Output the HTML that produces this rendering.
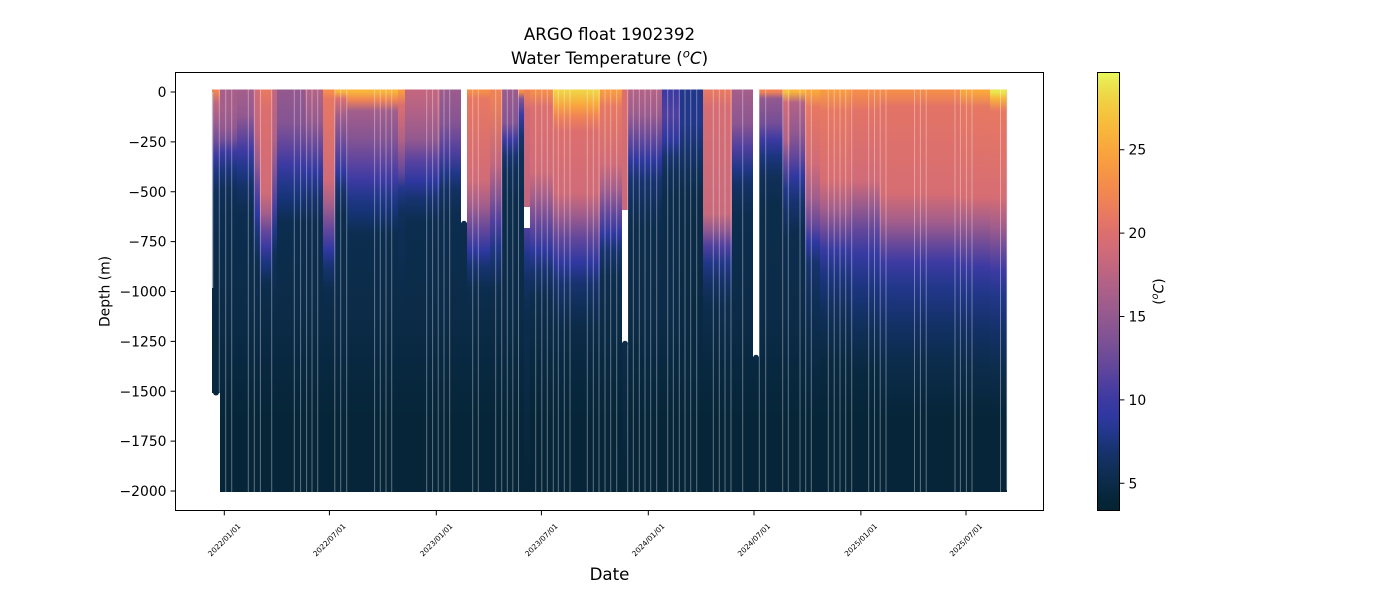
<!DOCTYPE html>
<html><head><meta charset="utf-8"><style>html,body{margin:0;padding:0;background:#fff;overflow:hidden}svg{display:block}</style></head>
<body>
<svg width="1400" height="600" viewBox="0 0 1400 600" xmlns="http://www.w3.org/2000/svg" font-family="'DejaVu Sans','Liberation Sans',sans-serif">
<defs>
<linearGradient id="g0" gradientUnits="userSpaceOnUse" x1="0" y1="16.6" x2="0" y2="836.6"><stop offset=".092" stop-color="#ef8355"/><stop offset=".105" stop-color="#c2667f"/><stop offset=".125" stop-color="#a35e8b"/><stop offset=".150" stop-color="#744e97"/><stop offset=".170" stop-color="#3c3aa2"/><stop offset=".190" stop-color="#1c3580"/><stop offset=".215" stop-color="#102f5a"/><stop offset=".300" stop-color="#0b2b48"/><stop offset=".393" stop-color="#082840"/></linearGradient>
<linearGradient id="gA1" gradientUnits="userSpaceOnUse" x1="0" y1="16.6" x2="0" y2="836.6"><stop offset=".092" stop-color="#a85f89"/><stop offset=".113" stop-color="#a35e8b"/><stop offset=".135" stop-color="#93598f"/><stop offset=".150" stop-color="#744e97"/><stop offset=".165" stop-color="#3c3aa2"/><stop offset=".185" stop-color="#1c3580"/><stop offset=".210" stop-color="#102f5a"/><stop offset=".240" stop-color="#0d2d50"/><stop offset=".360" stop-color="#0b2b48"/><stop offset=".430" stop-color="#082840"/><stop offset=".491" stop-color="#062538"/></linearGradient>
<linearGradient id="gA2" gradientUnits="userSpaceOnUse" x1="0" y1="16.6" x2="0" y2="836.6"><stop offset=".092" stop-color="#a35e8b"/><stop offset=".120" stop-color="#93598f"/><stop offset=".145" stop-color="#63479b"/><stop offset=".165" stop-color="#3c3aa2"/><stop offset=".185" stop-color="#22378a"/><stop offset=".210" stop-color="#133165"/><stop offset=".240" stop-color="#0d2d50"/><stop offset=".360" stop-color="#0b2b48"/><stop offset=".430" stop-color="#082840"/><stop offset=".491" stop-color="#062538"/></linearGradient>
<linearGradient id="gB" gradientUnits="userSpaceOnUse" x1="0" y1="16.6" x2="0" y2="836.6"><stop offset=".092" stop-color="#d06b78"/><stop offset=".140" stop-color="#c2667f"/><stop offset=".180" stop-color="#93598f"/><stop offset=".205" stop-color="#63479b"/><stop offset=".240" stop-color="#2f38a0"/><stop offset=".270" stop-color="#173370"/><stop offset=".300" stop-color="#0d2d50"/><stop offset=".360" stop-color="#0b2b48"/><stop offset=".430" stop-color="#082840"/><stop offset=".491" stop-color="#062538"/></linearGradient>
<linearGradient id="gC" gradientUnits="userSpaceOnUse" x1="0" y1="16.6" x2="0" y2="836.6"><stop offset=".092" stop-color="#e77862"/><stop offset=".110" stop-color="#dc6f6e"/><stop offset=".215" stop-color="#d06b78"/><stop offset=".240" stop-color="#a35e8b"/><stop offset=".262" stop-color="#63479b"/><stop offset=".280" stop-color="#3c3aa2"/><stop offset=".300" stop-color="#1c3580"/><stop offset=".325" stop-color="#0d2d50"/><stop offset=".360" stop-color="#0b2b48"/><stop offset=".430" stop-color="#082840"/><stop offset=".491" stop-color="#062538"/></linearGradient>
<linearGradient id="gD" gradientUnits="userSpaceOnUse" x1="0" y1="16.6" x2="0" y2="836.6"><stop offset=".092" stop-color="#c2667f"/><stop offset=".150" stop-color="#b26286"/><stop offset=".190" stop-color="#845493"/><stop offset=".230" stop-color="#4f3f9f"/><stop offset=".260" stop-color="#22378a"/><stop offset=".290" stop-color="#102f5a"/><stop offset=".360" stop-color="#0b2b48"/><stop offset=".430" stop-color="#082840"/><stop offset=".491" stop-color="#062538"/></linearGradient>
<linearGradient id="gE" gradientUnits="userSpaceOnUse" x1="0" y1="16.6" x2="0" y2="836.6"><stop offset=".092" stop-color="#93598f"/><stop offset=".130" stop-color="#845493"/><stop offset=".155" stop-color="#63479b"/><stop offset=".180" stop-color="#3c3aa2"/><stop offset=".205" stop-color="#22378a"/><stop offset=".225" stop-color="#143373"/><stop offset=".250" stop-color="#0d2d50"/><stop offset=".360" stop-color="#0b2b48"/><stop offset=".430" stop-color="#082840"/><stop offset=".491" stop-color="#062538"/></linearGradient>
<linearGradient id="gF" gradientUnits="userSpaceOnUse" x1="0" y1="16.6" x2="0" y2="836.6"><stop offset=".092" stop-color="#b26286"/><stop offset=".130" stop-color="#93598f"/><stop offset=".160" stop-color="#63479b"/><stop offset=".190" stop-color="#2f38a0"/><stop offset=".220" stop-color="#173370"/><stop offset=".250" stop-color="#0d2d50"/><stop offset=".360" stop-color="#0b2b48"/><stop offset=".430" stop-color="#082840"/><stop offset=".491" stop-color="#062538"/></linearGradient>
<linearGradient id="gG" gradientUnits="userSpaceOnUse" x1="0" y1="16.6" x2="0" y2="836.6"><stop offset=".092" stop-color="#f48d4b"/><stop offset=".100" stop-color="#e77862"/><stop offset=".200" stop-color="#d06b78"/><stop offset=".230" stop-color="#a35e8b"/><stop offset=".260" stop-color="#63479b"/><stop offset=".285" stop-color="#2f38a0"/><stop offset=".305" stop-color="#173370"/><stop offset=".330" stop-color="#0d2d50"/><stop offset=".360" stop-color="#0b2b48"/><stop offset=".430" stop-color="#082840"/><stop offset=".491" stop-color="#062538"/></linearGradient>
<linearGradient id="gH" gradientUnits="userSpaceOnUse" x1="0" y1="16.6" x2="0" y2="836.6"><stop offset=".092" stop-color="#f8b43b"/><stop offset=".100" stop-color="#dc6f6e"/><stop offset=".120" stop-color="#a35e8b"/><stop offset=".160" stop-color="#63479b"/><stop offset=".190" stop-color="#2f38a0"/><stop offset=".210" stop-color="#173370"/><stop offset=".240" stop-color="#0d2d50"/><stop offset=".360" stop-color="#0b2b48"/><stop offset=".430" stop-color="#082840"/><stop offset=".491" stop-color="#062538"/></linearGradient>
<linearGradient id="gI" gradientUnits="userSpaceOnUse" x1="0" y1="16.6" x2="0" y2="836.6"><stop offset=".092" stop-color="#f8b43b"/><stop offset=".102" stop-color="#ef8355"/><stop offset=".115" stop-color="#a35e8b"/><stop offset=".150" stop-color="#845493"/><stop offset=".180" stop-color="#5a43a0"/><stop offset=".200" stop-color="#3c3aa2"/><stop offset=".220" stop-color="#22378a"/><stop offset=".240" stop-color="#143373"/><stop offset=".265" stop-color="#0d2d50"/><stop offset=".360" stop-color="#0b2b48"/><stop offset=".430" stop-color="#082840"/><stop offset=".491" stop-color="#062538"/></linearGradient>
<linearGradient id="gJ" gradientUnits="userSpaceOnUse" x1="0" y1="16.6" x2="0" y2="836.6"><stop offset=".092" stop-color="#f79a42"/><stop offset=".108" stop-color="#dc6f6e"/><stop offset=".150" stop-color="#b26286"/><stop offset=".190" stop-color="#63479b"/><stop offset=".210" stop-color="#22378a"/><stop offset=".240" stop-color="#102f5a"/><stop offset=".360" stop-color="#0b2b48"/><stop offset=".430" stop-color="#082840"/><stop offset=".491" stop-color="#062538"/></linearGradient>
<linearGradient id="gK" gradientUnits="userSpaceOnUse" x1="0" y1="16.6" x2="0" y2="836.6"><stop offset=".092" stop-color="#c2667f"/><stop offset=".115" stop-color="#b26286"/><stop offset=".150" stop-color="#93598f"/><stop offset=".175" stop-color="#5a43a0"/><stop offset=".200" stop-color="#2f38a0"/><stop offset=".222" stop-color="#173370"/><stop offset=".250" stop-color="#0d2d50"/><stop offset=".360" stop-color="#0b2b48"/><stop offset=".430" stop-color="#082840"/><stop offset=".491" stop-color="#062538"/></linearGradient>
<linearGradient id="gL" gradientUnits="userSpaceOnUse" x1="0" y1="16.6" x2="0" y2="836.6"><stop offset=".092" stop-color="#9a5b8d"/><stop offset=".130" stop-color="#845493"/><stop offset=".165" stop-color="#4f3f9f"/><stop offset=".190" stop-color="#22378a"/><stop offset=".210" stop-color="#133165"/><stop offset=".240" stop-color="#0d2d50"/><stop offset=".360" stop-color="#0b2b48"/><stop offset=".430" stop-color="#082840"/><stop offset=".491" stop-color="#062538"/></linearGradient>
<linearGradient id="gDeep" gradientUnits="userSpaceOnUse" x1="0" y1="16.6" x2="0" y2="836.6"><stop offset=".200" stop-color="#0d2d50"/><stop offset=".360" stop-color="#0b2b48"/><stop offset=".430" stop-color="#082840"/><stop offset=".491" stop-color="#062538"/></linearGradient>
<linearGradient id="gN2" gradientUnits="userSpaceOnUse" x1="0" y1="16.6" x2="0" y2="836.6"><stop offset=".092" stop-color="#ef8355"/><stop offset=".180" stop-color="#c2667f"/><stop offset=".220" stop-color="#845493"/><stop offset=".250" stop-color="#4f3f9f"/><stop offset=".280" stop-color="#22378a"/><stop offset=".300" stop-color="#173370"/><stop offset=".330" stop-color="#0d2d50"/><stop offset=".360" stop-color="#0b2b48"/><stop offset=".430" stop-color="#082840"/><stop offset=".491" stop-color="#062538"/></linearGradient>
<linearGradient id="gO" gradientUnits="userSpaceOnUse" x1="0" y1="16.6" x2="0" y2="836.6"><stop offset=".092" stop-color="#9a5b8d"/><stop offset=".130" stop-color="#845493"/><stop offset=".150" stop-color="#3c3aa2"/><stop offset=".170" stop-color="#173370"/><stop offset=".190" stop-color="#0f2f58"/><stop offset=".230" stop-color="#0c2c4c"/><stop offset=".360" stop-color="#0b2b48"/><stop offset=".430" stop-color="#082840"/><stop offset=".491" stop-color="#062538"/></linearGradient>
<linearGradient id="gP" gradientUnits="userSpaceOnUse" x1="0" y1="16.6" x2="0" y2="836.6"><stop offset=".092" stop-color="#f48d4b"/><stop offset=".100" stop-color="#845493"/><stop offset=".120" stop-color="#3c3aa2"/><stop offset=".145" stop-color="#173370"/><stop offset=".170" stop-color="#0f2f58"/><stop offset=".230" stop-color="#0c2c4c"/><stop offset=".360" stop-color="#0b2b48"/><stop offset=".430" stop-color="#082840"/><stop offset=".491" stop-color="#062538"/></linearGradient>
<linearGradient id="gQ" gradientUnits="userSpaceOnUse" x1="0" y1="0" x2="0" y2="1000"><stop offset=".092" stop-color="#ef8355"/><stop offset=".110" stop-color="#d06b78"/><stop offset=".205" stop-color="#c2667f"/><stop offset=".228" stop-color="#4f3f9f"/><stop offset=".255" stop-color="#22378a"/><stop offset=".280" stop-color="#133165"/><stop offset=".310" stop-color="#0d2d50"/><stop offset=".360" stop-color="#0b2b48"/><stop offset=".430" stop-color="#082840"/><stop offset=".491" stop-color="#062538"/></linearGradient>
<linearGradient id="gR" gradientUnits="userSpaceOnUse" x1="0" y1="16.6" x2="0" y2="836.6"><stop offset=".092" stop-color="#f48d4b"/><stop offset=".110" stop-color="#dc6f6e"/><stop offset=".190" stop-color="#d06b78"/><stop offset=".220" stop-color="#a35e8b"/><stop offset=".255" stop-color="#63479b"/><stop offset=".285" stop-color="#2f38a0"/><stop offset=".310" stop-color="#173370"/><stop offset=".340" stop-color="#0d2d50"/><stop offset=".370" stop-color="#0b2b48"/><stop offset=".430" stop-color="#082840"/><stop offset=".491" stop-color="#062538"/></linearGradient>
<linearGradient id="gS" gradientUnits="userSpaceOnUse" x1="0" y1="16.6" x2="0" y2="836.6"><stop offset=".092" stop-color="#f0d244"/><stop offset=".108" stop-color="#f9a63d"/><stop offset=".122" stop-color="#ef8355"/><stop offset=".140" stop-color="#dc6f6e"/><stop offset=".215" stop-color="#d06b78"/><stop offset=".240" stop-color="#a35e8b"/><stop offset=".270" stop-color="#63479b"/><stop offset=".300" stop-color="#2f38a0"/><stop offset=".325" stop-color="#173370"/><stop offset=".350" stop-color="#102f5a"/><stop offset=".380" stop-color="#0b2b48"/><stop offset=".430" stop-color="#082840"/><stop offset=".491" stop-color="#062538"/></linearGradient>
<linearGradient id="gT" gradientUnits="userSpaceOnUse" x1="0" y1="16.6" x2="0" y2="836.6"><stop offset=".092" stop-color="#f79a42"/><stop offset=".110" stop-color="#e77862"/><stop offset=".180" stop-color="#d06b78"/><stop offset=".210" stop-color="#a35e8b"/><stop offset=".240" stop-color="#63479b"/><stop offset=".265" stop-color="#2f38a0"/><stop offset=".285" stop-color="#173370"/><stop offset=".315" stop-color="#0d2d50"/><stop offset=".360" stop-color="#0b2b48"/><stop offset=".430" stop-color="#082840"/><stop offset=".491" stop-color="#062538"/></linearGradient>
<linearGradient id="gU" gradientUnits="userSpaceOnUse" x1="0" y1="0" x2="0" y2="1000"><stop offset=".092" stop-color="#dc6f6e"/><stop offset=".208" stop-color="#c86a7c"/><stop offset=".343" stop-color="#0b2b48"/><stop offset=".430" stop-color="#082840"/><stop offset=".491" stop-color="#062538"/></linearGradient>
<linearGradient id="gV" gradientUnits="userSpaceOnUse" x1="0" y1="16.6" x2="0" y2="836.6"><stop offset=".092" stop-color="#b26286"/><stop offset=".120" stop-color="#9a5b8d"/><stop offset=".150" stop-color="#63479b"/><stop offset=".175" stop-color="#2f38a0"/><stop offset=".200" stop-color="#173370"/><stop offset=".230" stop-color="#102f5a"/><stop offset=".260" stop-color="#0c2c4c"/><stop offset=".360" stop-color="#0b2b48"/><stop offset=".430" stop-color="#082840"/><stop offset=".491" stop-color="#062538"/></linearGradient>
<linearGradient id="gW1" gradientUnits="userSpaceOnUse" x1="0" y1="16.6" x2="0" y2="836.6"><stop offset=".092" stop-color="#3c3aa2"/><stop offset=".120" stop-color="#4f3f9f"/><stop offset=".150" stop-color="#2f38a0"/><stop offset=".170" stop-color="#173370"/><stop offset=".190" stop-color="#102f5a"/><stop offset=".220" stop-color="#0c2c4c"/><stop offset=".360" stop-color="#0b2b48"/><stop offset=".430" stop-color="#082840"/><stop offset=".491" stop-color="#062538"/></linearGradient>
<linearGradient id="gW2" gradientUnits="userSpaceOnUse" x1="0" y1="16.6" x2="0" y2="836.6"><stop offset=".092" stop-color="#22378a"/><stop offset=".130" stop-color="#22378a"/><stop offset=".160" stop-color="#173370"/><stop offset=".190" stop-color="#0f2f58"/><stop offset=".220" stop-color="#0b2b48"/><stop offset=".430" stop-color="#082840"/><stop offset=".491" stop-color="#062538"/></linearGradient>
<linearGradient id="gX" gradientUnits="userSpaceOnUse" x1="0" y1="16.6" x2="0" y2="836.6"><stop offset=".092" stop-color="#e77862"/><stop offset=".110" stop-color="#d66d73"/><stop offset=".240" stop-color="#c86a7c"/><stop offset=".260" stop-color="#93598f"/><stop offset=".280" stop-color="#4f3f9f"/><stop offset=".300" stop-color="#22378a"/><stop offset=".325" stop-color="#133165"/><stop offset=".350" stop-color="#0d2d50"/><stop offset=".380" stop-color="#0b2b48"/><stop offset=".430" stop-color="#082840"/><stop offset=".491" stop-color="#062538"/></linearGradient>
<linearGradient id="gY" gradientUnits="userSpaceOnUse" x1="0" y1="16.6" x2="0" y2="836.6"><stop offset=".092" stop-color="#a35e8b"/><stop offset=".130" stop-color="#8c5691"/><stop offset=".160" stop-color="#4f3f9f"/><stop offset=".185" stop-color="#22378a"/><stop offset=".205" stop-color="#133165"/><stop offset=".240" stop-color="#0d2d50"/><stop offset=".360" stop-color="#0b2b48"/><stop offset=".430" stop-color="#082840"/><stop offset=".491" stop-color="#062538"/></linearGradient>
<linearGradient id="gAA" gradientUnits="userSpaceOnUse" x1="0" y1="16.6" x2="0" y2="836.6"><stop offset=".092" stop-color="#ef8355"/><stop offset=".100" stop-color="#93598f"/><stop offset=".130" stop-color="#744e97"/><stop offset=".150" stop-color="#3c3aa2"/><stop offset=".170" stop-color="#1c3580"/><stop offset=".195" stop-color="#102f5a"/><stop offset=".230" stop-color="#0c2c4c"/><stop offset=".360" stop-color="#0b2b48"/><stop offset=".430" stop-color="#082840"/><stop offset=".491" stop-color="#062538"/></linearGradient>
<linearGradient id="gAB" gradientUnits="userSpaceOnUse" x1="0" y1="16.6" x2="0" y2="836.6"><stop offset=".092" stop-color="#f5c23d"/><stop offset=".105" stop-color="#d06b78"/><stop offset=".150" stop-color="#b26286"/><stop offset=".180" stop-color="#63479b"/><stop offset=".210" stop-color="#22378a"/><stop offset=".240" stop-color="#133165"/><stop offset=".270" stop-color="#0d2d50"/><stop offset=".360" stop-color="#0b2b48"/><stop offset=".430" stop-color="#082840"/><stop offset=".491" stop-color="#062538"/></linearGradient>
<linearGradient id="gAC" gradientUnits="userSpaceOnUse" x1="0" y1="16.6" x2="0" y2="836.6"><stop offset=".092" stop-color="#f8b43b"/><stop offset=".105" stop-color="#b26286"/><stop offset=".140" stop-color="#93598f"/><stop offset=".170" stop-color="#63479b"/><stop offset=".195" stop-color="#2f38a0"/><stop offset=".225" stop-color="#173370"/><stop offset=".260" stop-color="#0d2d50"/><stop offset=".360" stop-color="#0b2b48"/><stop offset=".430" stop-color="#082840"/><stop offset=".491" stop-color="#062538"/></linearGradient>
<linearGradient id="gAD" gradientUnits="userSpaceOnUse" x1="0" y1="16.6" x2="0" y2="836.6"><stop offset=".092" stop-color="#f9a63d"/><stop offset=".110" stop-color="#e77862"/><stop offset=".180" stop-color="#d06b78"/><stop offset=".220" stop-color="#a35e8b"/><stop offset=".255" stop-color="#63479b"/><stop offset=".275" stop-color="#2f38a0"/><stop offset=".300" stop-color="#173370"/><stop offset=".340" stop-color="#102f5a"/><stop offset=".400" stop-color="#0b2b48"/><stop offset=".450" stop-color="#082840"/><stop offset=".491" stop-color="#062538"/></linearGradient>
<linearGradient id="gAE" gradientUnits="userSpaceOnUse" x1="0" y1="16.6" x2="0" y2="836.6"><stop offset=".092" stop-color="#f79a42"/><stop offset=".115" stop-color="#e77862"/><stop offset=".200" stop-color="#d66d73"/><stop offset=".235" stop-color="#a35e8b"/><stop offset=".265" stop-color="#63479b"/><stop offset=".285" stop-color="#363aa1"/><stop offset=".315" stop-color="#1c3580"/><stop offset=".360" stop-color="#102f5a"/><stop offset=".420" stop-color="#092941"/><stop offset=".491" stop-color="#062538"/></linearGradient>
<linearGradient id="gAF" gradientUnits="userSpaceOnUse" x1="0" y1="16.6" x2="0" y2="836.6"><stop offset=".092" stop-color="#f48d4b"/><stop offset=".115" stop-color="#e27366"/><stop offset=".200" stop-color="#d06b78"/><stop offset=".230" stop-color="#9a5b8d"/><stop offset=".260" stop-color="#63479b"/><stop offset=".290" stop-color="#363aa1"/><stop offset=".330" stop-color="#1c3580"/><stop offset=".380" stop-color="#102f5a"/><stop offset=".430" stop-color="#092941"/><stop offset=".491" stop-color="#062538"/></linearGradient>
<linearGradient id="gAG" gradientUnits="userSpaceOnUse" x1="0" y1="16.6" x2="0" y2="836.6"><stop offset=".092" stop-color="#f48d4b"/><stop offset=".110" stop-color="#e27366"/><stop offset=".215" stop-color="#d66d73"/><stop offset=".250" stop-color="#a35e8b"/><stop offset=".280" stop-color="#63479b"/><stop offset=".300" stop-color="#3c3aa2"/><stop offset=".330" stop-color="#22378a"/><stop offset=".380" stop-color="#123063"/><stop offset=".420" stop-color="#0c2c4c"/><stop offset=".491" stop-color="#062538"/></linearGradient>
<linearGradient id="gAH" gradientUnits="userSpaceOnUse" x1="0" y1="16.6" x2="0" y2="836.6"><stop offset=".092" stop-color="#f9a63d"/><stop offset=".110" stop-color="#e77862"/><stop offset=".220" stop-color="#d66d73"/><stop offset=".250" stop-color="#a35e8b"/><stop offset=".280" stop-color="#6a4a99"/><stop offset=".305" stop-color="#3c3aa2"/><stop offset=".335" stop-color="#22378a"/><stop offset=".385" stop-color="#123063"/><stop offset=".425" stop-color="#0c2c4c"/><stop offset=".491" stop-color="#062538"/></linearGradient>
<linearGradient id="gAI" gradientUnits="userSpaceOnUse" x1="0" y1="16.6" x2="0" y2="836.6"><stop offset=".092" stop-color="#eae650"/><stop offset=".100" stop-color="#f8b43b"/><stop offset=".115" stop-color="#e77862"/><stop offset=".220" stop-color="#d66d73"/><stop offset=".255" stop-color="#a35e8b"/><stop offset=".285" stop-color="#6a4a99"/><stop offset=".310" stop-color="#3c3aa2"/><stop offset=".340" stop-color="#22378a"/><stop offset=".390" stop-color="#123063"/><stop offset=".430" stop-color="#0c2c4c"/><stop offset=".491" stop-color="#062538"/></linearGradient>
<linearGradient id="gCB" gradientUnits="userSpaceOnUse" x1="0" y1="0" x2="0" y2="1000"><stop offset=".072" stop-color="#e8fa5b"/><stop offset=".083" stop-color="#eae650"/><stop offset=".0997" stop-color="#f0d244"/><stop offset=".1163" stop-color="#f5c23d"/><stop offset=".133" stop-color="#f8b43b"/><stop offset=".1497" stop-color="#f9a63d"/><stop offset=".1664" stop-color="#f79a42"/><stop offset=".1831" stop-color="#f48d4b"/><stop offset=".1997" stop-color="#ef8355"/><stop offset=".2164" stop-color="#e77862"/><stop offset=".2331" stop-color="#dc6f6e"/><stop offset=".2498" stop-color="#d06b78"/><stop offset=".2665" stop-color="#c2667f"/><stop offset=".2831" stop-color="#b26286"/><stop offset=".2998" stop-color="#a35e8b"/><stop offset=".3165" stop-color="#93598f"/><stop offset=".3332" stop-color="#845493"/><stop offset=".3499" stop-color="#744e97"/><stop offset=".3665" stop-color="#63479b"/><stop offset=".3832" stop-color="#4f3f9f"/><stop offset=".3999" stop-color="#3c3aa2"/><stop offset=".4166" stop-color="#2f38a0"/><stop offset=".4333" stop-color="#22378a"/><stop offset=".450" stop-color="#173370"/><stop offset=".4666" stop-color="#102f5a"/><stop offset=".4833" stop-color="#0b2b48"/><stop offset=".500" stop-color="#062538"/><stop offset=".5107" stop-color="#042333"/></linearGradient>
</defs>

<!-- Data columns -->
<g>
<rect x="212" y="89.5" width="8" height="303.5" fill="url(#g0)"/>
<rect x="220" y="89.5" width="17" height="402.5" fill="url(#gA1)"/>
<rect x="237" y="89.5" width="17" height="402.5" fill="url(#gA2)"/>
<rect x="254" y="89.5" width="6" height="402.5" fill="url(#gB)"/>
<rect x="260" y="89.5" width="12" height="402.5" fill="url(#gC)"/>
<rect x="272" y="89.5" width="5" height="402.5" fill="url(#gD)"/>
<rect x="277" y="89.5" width="28" height="402.5" fill="url(#gE)"/>
<rect x="305" y="89.5" width="18" height="402.5" fill="url(#gF)"/>
<rect x="323" y="89.5" width="12" height="402.5" fill="url(#gG)"/>
<rect x="335" y="89.5" width="12" height="402.5" fill="url(#gH)"/>
<rect x="347" y="89.5" width="51" height="402.5" fill="url(#gI)"/>
<rect x="398" y="89.5" width="7" height="402.5" fill="url(#gJ)"/>
<rect x="405" y="89.5" width="35" height="402.5" fill="url(#gK)"/>
<rect x="440" y="89.5" width="21" height="402.5" fill="url(#gL)"/>
<rect x="461" y="223" width="6" height="269" fill="url(#gDeep)"/>
<rect x="467" y="89.5" width="23" height="402.5" fill="url(#gG)"/>
<rect x="490" y="89.5" width="12" height="402.5" fill="url(#gN2)"/>
<rect x="502" y="89.5" width="16" height="402.5" fill="url(#gO)"/>
<rect x="518" y="89.5" width="6" height="402.5" fill="url(#gP)"/>
<rect x="524" y="89.5" width="6" height="402.5" fill="url(#gQ)"/>
<rect x="530" y="89.5" width="23" height="402.5" fill="url(#gR)"/>
<rect x="553" y="89.5" width="47" height="402.5" fill="url(#gS)"/>
<rect x="600" y="89.5" width="22" height="402.5" fill="url(#gT)"/>
<rect x="622" y="89.5" width="6" height="402.5" fill="url(#gU)"/>
<rect x="628" y="89.5" width="34" height="402.5" fill="url(#gV)"/>
<rect x="662" y="89.5" width="18" height="402.5" fill="url(#gW1)"/>
<rect x="680" y="89.5" width="23" height="402.5" fill="url(#gW2)"/>
<rect x="703" y="89.5" width="29" height="402.5" fill="url(#gX)"/>
<rect x="732" y="89.5" width="21" height="402.5" fill="url(#gY)"/>
<rect x="753" y="357" width="6" height="135" fill="url(#gDeep)"/>
<rect x="759" y="89.5" width="24" height="402.5" fill="url(#gAA)"/>
<rect x="783" y="89.5" width="7" height="402.5" fill="url(#gAB)"/>
<rect x="790" y="89.5" width="15" height="402.5" fill="url(#gAC)"/>
<rect x="805" y="89.5" width="15" height="402.5" fill="url(#gAD)"/>
<rect x="820" y="89.5" width="30" height="402.5" fill="url(#gAE)"/>
<rect x="850" y="89.5" width="30" height="402.5" fill="url(#gAF)"/>
<rect x="880" y="89.5" width="80" height="402.5" fill="url(#gAG)"/>
<rect x="960" y="89.5" width="30" height="402.5" fill="url(#gAH)"/>
<rect x="990" y="89.5" width="17" height="402.5" fill="url(#gAI)"/>
</g>
<!-- separator lines -->
<path stroke="#fff" stroke-opacity="0.36" stroke-width="1" fill="none" d="M219.3 89.5V492M225.7 89.5V492M231.7 89.5V492M248.3 89.5V492M254.3 89.5V492M260.4 89.5V492M271.7 89.5V492M294.3 89.5V492M300.6 89.5V492M306.6 89.5V492M312 89.5V492M317.7 89.5V492M334.8 89.5V492M340.7 89.5V492M346.7 89.5V492M374.6 89.5V492M380.3 89.5V492M386 89.5V492M391.7 89.5V492M426.7 89.5V492M432.6 89.5V492M438.2 89.5V492M444 89.5V492M449.7 89.5V492M472.7 89.5V492M478.3 89.5V492M495.7 89.5V492M501.7 89.5V492M507.3 89.5V492M512.8 89.5V492M518.5 89.5V492M535.7 89.5V492M541.8 89.5V492M547.3 89.5V492M553.3 89.5V492M558.3 89.5V492M564.3 89.5V492M570 89.5V492M587.3 89.5V492M593.3 89.5V492M599 89.5V492M605 89.5V492M610.7 89.5V492M616.7 89.5V492M627.7 89.5V492M633.3 89.5V492M639.3 89.5V492M645 89.5V492M650.7 89.5V492M656.7 89.5V492M667.7 89.5V492M673.3 89.5V492M679.3 89.5V492M685 89.5V492M690.7 89.5V492M696.7 89.5V492M713.3 89.5V492M719.3 89.5V492M725 89.5V492M731 89.5V492M742.7 89.5V492M759.3 89.5V492M765.7 89.5V492M782.7 89.5V492M788.3 89.5V492M800 89.5V492M805.7 89.5V492M811.3 89.5V492M828.3 89.5V492M834.2 89.5V492M840 89.5V492M845.7 89.5V492M851.7 89.5V492M868.7 89.5V492M874.5 89.5V492M880.2 89.5V492M886 89.5V492M914.5 89.5V492M920.4 89.5V492M926.2 89.5V492M955 89.5V492M960.4 89.5V492M966.4 89.5V492M972 89.5V492M1000.5 89.5V492"/>

<!-- white gaps -->
<g fill="#fff">
<rect x="212" y="393" width="8" height="99"/>
<rect x="461" y="89.5" width="6" height="133.5"/>
<rect x="524" y="207" width="6" height="21"/>
<rect x="622" y="210" width="6" height="133"/>
<rect x="753" y="89.5" width="6" height="267.5"/>
</g>
<circle cx="464" cy="223.5" r="2.8" fill="#0d2d50"/>
<circle cx="625" cy="343.5" r="2.8" fill="#0b2b48"/>
<circle cx="756" cy="357.5" r="2.8" fill="#0b2b48"/>
<circle cx="216" cy="392.5" r="3" fill="#082840"/>
<rect x="211.8" y="92" width="1.4" height="196" fill="#c9cad6" opacity="0.8"/>
<rect x="1006.3" y="92" width="1" height="398" fill="#c9cad6" opacity="0.6"/>

<!-- Titles -->
<text x="609.5" y="40" text-anchor="middle" font-size="16.67" fill="#000">ARGO float 1902392</text>
<text x="609.5" y="64" text-anchor="middle" font-size="16.67" fill="#000">Water Temperature (<tspan font-style="italic" font-size="11.7" dy="-6.5">o</tspan><tspan font-style="italic" dy="6.5">C</tspan>)</text>

<!-- Axes frame -->
<rect x="175.5" y="72.5" width="868" height="438" fill="none" stroke="#000" stroke-width="1"/>

<!-- Ticks -->
<g stroke="#000" stroke-width="1">
<path d="M170.6 92H175.5M170.6 141.9H175.5M170.6 191.8H175.5M170.6 241.6H175.5M170.6 291.5H175.5M170.6 341.4H175.5M170.6 391.3H175.5M170.6 441.1H175.5M170.6 491H175.5"/>
<path d="M224.3 510.5V515.4M329.4 510.5V515.4M436.3 510.5V515.4M541.4 510.5V515.4M648.3 510.5V515.4M754 510.5V515.4M860.9 510.5V515.4M966 510.5V515.4"/>
<path d="M1119.5 149.7H1124.4M1119.5 233.1H1124.4M1119.5 316.5H1124.4M1119.5 399.9H1124.4M1119.5 483.3H1124.4"/>
</g>
<g font-size="13.9" fill="#000" text-anchor="end">
<text x="166.5" y="97">0</text>
<text x="166.5" y="146.9">−250</text>
<text x="166.5" y="196.8">−500</text>
<text x="166.5" y="246.6">−750</text>
<text x="166.5" y="296.5">−1000</text>
<text x="166.5" y="346.4">−1250</text>
<text x="166.5" y="396.3">−1500</text>
<text x="166.5" y="446.1">−1750</text>
<text x="166.5" y="496">−2000</text>
</g>
<text transform="translate(109.5,291.5) rotate(-90)" text-anchor="middle" font-size="13.9" fill="#000">Depth (m)</text>

<!-- X tick labels -->
<g font-size="7.4" fill="#000" text-anchor="middle" dominant-baseline="central">
<text transform="translate(224.3,540) rotate(-45)">2022/01/01</text>
<text transform="translate(329.4,540) rotate(-45)">2022/07/01</text>
<text transform="translate(436.3,540) rotate(-45)">2023/01/01</text>
<text transform="translate(541.4,540) rotate(-45)">2023/07/01</text>
<text transform="translate(648.3,540) rotate(-45)">2024/01/01</text>
<text transform="translate(754,540) rotate(-45)">2024/07/01</text>
<text transform="translate(860.9,540) rotate(-45)">2025/01/01</text>
<text transform="translate(966,540) rotate(-45)">2025/07/01</text>
</g>
<text x="609.5" y="580" text-anchor="middle" font-size="16.67" fill="#000">Date</text>

<!-- Colorbar -->
<rect x="1097.5" y="72.5" width="22" height="438" fill="url(#gCB)" stroke="#000" stroke-width="1"/>
<g font-size="13.9" fill="#000">
<text x="1128.5" y="154.7">25</text>
<text x="1128.5" y="238.1">20</text>
<text x="1128.5" y="321.5">15</text>
<text x="1128.5" y="404.9">10</text>
<text x="1128.5" y="488.3">5</text>
</g>
<text transform="translate(1163.5,291.5) rotate(-90)" text-anchor="middle" font-size="13.9" fill="#000">(<tspan font-style="italic" font-size="9.7" dy="-5.5">o</tspan><tspan font-style="italic" dy="5.5">C</tspan>)</text>
</svg>
</body></html>
